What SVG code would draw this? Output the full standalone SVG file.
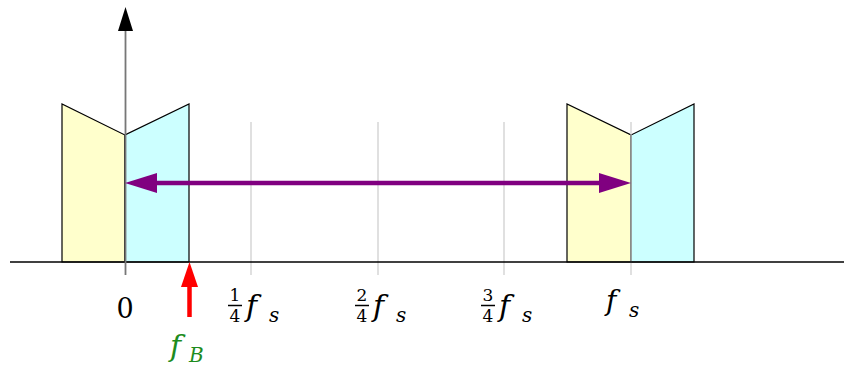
<svg xmlns="http://www.w3.org/2000/svg" width="844" height="366" viewBox="0 0 844 366">
<style>
.band{stroke:#000;stroke-width:1.2;stroke-linejoin:miter}
.y{fill:#ffffcc}
.c{fill:#ccffff}
.grid{stroke:#cccccc;stroke-width:1.2}
.bar{stroke:#000;stroke-width:1.5}
text{font-family:"DejaVu Serif","Liberation Serif",serif;fill:#000}
.it{font-style:italic}
.num{font-size:17px;text-anchor:middle}
.big{font-size:30px;font-style:italic}
.sub{font-size:20px;font-style:italic}
.green{fill:#1e8c1e}
</style>
<rect width="844" height="366" fill="#fff"/>
<g id="gridlines">
<line class="grid" x1="251" y1="122" x2="251" y2="275"/>
<line class="grid" x1="378" y1="122" x2="378" y2="275"/>
<line class="grid" x1="504" y1="122" x2="504" y2="275"/>
</g>
<g id="spectrum-0">
<polygon class="band y" points="62,262 62,104 125,135 125,262"/>
<polygon class="band c" points="125,262 125,135 189,104 189,262"/>
</g>
<g id="spectrum-fs">
<polygon class="band y" points="567,262 567,104 631,135 631,262"/>
<polygon class="band c" points="631,262 631,135 694,104 694,262"/>
<line class="grid" x1="631" y1="122" x2="631" y2="275"/>
</g>
<g id="axes">
<line x1="10" y1="262" x2="844" y2="262" stroke="#000" stroke-width="1.3"/>
<line x1="125.5" y1="28" x2="125.5" y2="275" stroke="#777" stroke-width="1.8"/>
<polygon points="125.5,7 118,31 133,31" fill="#000"/>
</g>
<g id="connectors">
<line x1="150" y1="183" x2="606" y2="183" stroke="#800080" stroke-width="4.5"/>
<polygon points="125,183 157,173 157,193" fill="#800080"/>
<polygon points="631,183 599,173 599,193" fill="#800080"/>
<line x1="189.5" y1="282" x2="189.5" y2="317" stroke="#ff0000" stroke-width="4.5"/>
<polygon points="189.5,262 181,287 198,287" fill="#ff0000"/>
</g>
<g id="labels">
<text x="125" y="318" font-size="27" text-anchor="middle" style="font-size:27px;text-anchor:middle">0</text>
<g id="fB">
<text class="big green" x="170" y="356">f</text>
<text class="sub green" x="189" y="362">B</text>
</g>
<g id="q1">
<text class="num" x="235" y="301">1</text>
<line class="bar" x1="228" y1="305.5" x2="242" y2="305.5"/>
<text class="num" x="235" y="322">4</text>
<text class="big" x="246" y="316">f</text>
<text class="sub" x="269" y="322">s</text>
</g>
<g id="q2">
<text class="num" x="362" y="301">2</text>
<line class="bar" x1="355" y1="305.5" x2="369" y2="305.5"/>
<text class="num" x="362" y="322">4</text>
<text class="big" x="373" y="316">f</text>
<text class="sub" x="396" y="322">s</text>
</g>
<g id="q3">
<text class="num" x="488" y="301">3</text>
<line class="bar" x1="481" y1="305.5" x2="495" y2="305.5"/>
<text class="num" x="488" y="322">4</text>
<text class="big" x="499" y="316">f</text>
<text class="sub" x="522" y="322">s</text>
</g>
<g id="fs">
<text class="big" x="606" y="310" style="font-size:28px">f</text>
<text class="sub" x="629" y="317">s</text>
</g>
</g>
</svg>
